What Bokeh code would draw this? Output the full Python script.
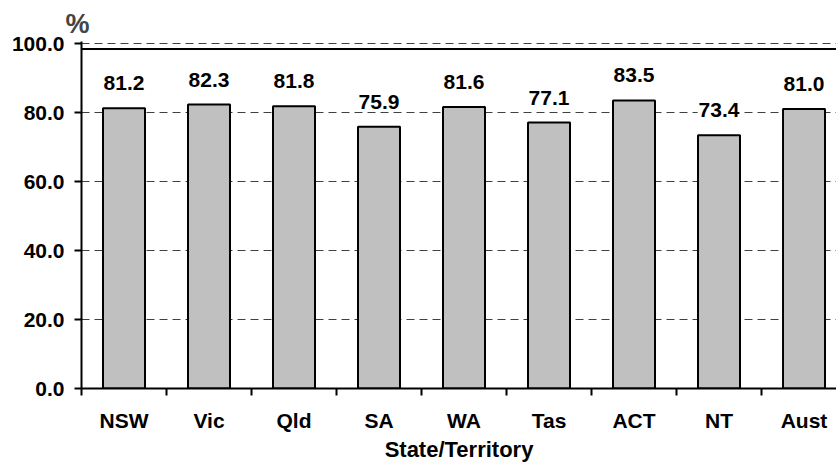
from bokeh.plotting import figure
from bokeh.models import ColumnDataSource, FixedTicker, NumeralTickFormatter, Range1d, Span
from bokeh.embed import file_html
from bokeh.resources import INLINE
from bokeh.core.properties import value

categories = ["NSW", "Vic", "Qld", "SA", "WA", "Tas", "ACT", "NT", "Aust"]
values = [81.2, 82.3, 81.8, 75.9, 81.6, 77.1, 83.5, 73.4, 81.0]
y_ticks = [0, 20, 40, 60, 80, 100]

FONT = "Liberation Sans"
FS = "21px"

xs = [i + 0.5 for i in range(len(categories))]
src = ColumnDataSource(dict(x=xs, top=values, label=[f"{v:.1f}" for v in values]))

p = figure(width=836, height=464, output_backend="svg", toolbar_location=None,
           x_range=Range1d(0, 8.882), y_range=Range1d(0, 100.58),
           min_border_left=81, min_border_right=0, min_border_top=41, min_border_bottom=74)
p.outline_line_color = None
p.background_fill_color = "white"
p.border_fill_color = "white"

p.title.text = "%"
p.title.text_font = FONT
p.title.text_font_style = "bold"
p.title.text_font_size = "27px"
p.title.align = "left"
p.title.offset = -16
p.title.standoff = 6

p.vbar(x="x", top="top", width=0.494, bottom=0, source=src,
       fill_color="#C0C0C0", line_color="black", line_width=2)

p.text(x="x", y="top", text="label", source=src, text_align="center",
       text_baseline="alphabetic", y_offset=-25,
       text_font=value(FONT), text_font_style="bold", text_font_size=FS,
       text_color="black", background_fill_color="white", padding=1)

# grid
p.xgrid.visible = False
p.ygrid.ticker = FixedTicker(ticks=[20, 40, 60, 80, 100])
p.ygrid.grid_line_color = "#404040"
p.ygrid.grid_line_dash = "8 5"
p.ygrid.grid_line_width = 1

# solid line near top of plot area
p.add_layout(Span(location=98.4, dimension="width", line_color="black", line_width=2))

# y axis
ya = p.yaxis[0]
ya.ticker = FixedTicker(ticks=y_ticks)
ya.formatter = NumeralTickFormatter(format="0.0")
ya.axis_line_width = 2
ya.major_tick_line_width = 2
ya.major_tick_out = 7
ya.major_tick_in = 0
ya.minor_tick_line_color = None
ya.major_label_standoff = 10
ya.major_label_text_font = FONT
ya.major_label_text_font_style = "bold"
ya.major_label_text_font_size = FS
ya.major_label_text_color = "black"

# x axis
xa = p.xaxis[0]
xa.ticker = FixedTicker(ticks=xs, minor_ticks=list(range(0, len(categories) + 1)))
xa.major_label_overrides = {x: c for x, c in zip(xs, categories)}
xa.axis_line_width = 2
xa.major_tick_out = 0
xa.major_tick_in = 0
xa.minor_tick_out = 7
xa.minor_tick_in = 0
xa.minor_tick_line_width = 2
xa.minor_tick_line_color = "black"
xa.major_label_standoff = 13
xa.major_label_text_font = FONT
xa.major_label_text_font_style = "bold"
xa.major_label_text_font_size = FS
xa.major_label_text_color = "black"
xa.axis_label = "State/Territory"
xa.axis_label_text_font = FONT
xa.axis_label_text_font_style = "bold"
xa.axis_label_text_font_size = "22px"
xa.axis_label_text_color = "black"
xa.axis_label_standoff = 2

open("out.html", "w").write(file_html(p, INLINE))
